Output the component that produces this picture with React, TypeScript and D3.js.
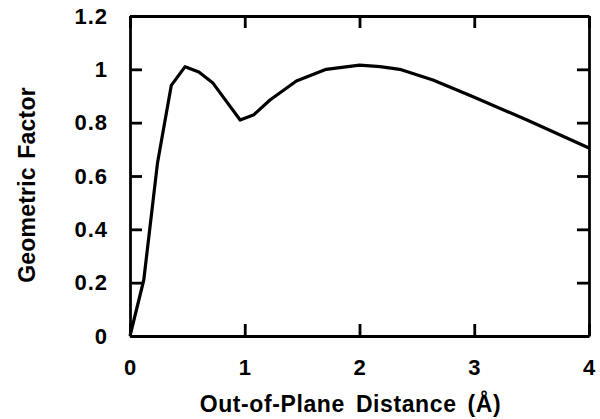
import React, { useEffect, useRef } from 'react';
import * as d3 from 'd3';

// out-of-plane distance (Å) and geometric factor
const distance = [0, 0.12, 0.24, 0.36, 0.48, 0.6, 0.72, 0.84, 0.96, 1.08, 1.22, 1.45, 1.71, 2.0, 2.18, 2.35, 2.64, 2.99, 3.46, 4.0];
const factor = [0, 0.21, 0.65, 0.94, 1.01, 0.99, 0.95, 0.88, 0.81, 0.83, 0.885, 0.956, 1.0, 1.016, 1.01, 1.0, 0.96, 0.897, 0.81, 0.705];

const xTicks = [0, 1, 2, 3, 4];
const yTicks = [0, 0.2, 0.4, 0.6, 0.8, 1, 1.2];

const App = () => {
  const svgRef = useRef<SVGSVGElement>(null);

  useEffect(() => {
    const svg = d3.select(svgRef.current);
    svg.selectAll('*').remove();

    const margin = { top: 16, right: 11, bottom: 83, left: 130 };
    const width = 600 - margin.left - margin.right;
    const height = 419 - margin.top - margin.bottom;
    const font = '"Liberation Sans", Arial, sans-serif';

    const x = d3.scaleLinear().domain([0, 4]).range([0, width]);
    const y = d3.scaleLinear().domain([0, 1.2]).range([height, 0]);

    const g = svg.append('g').attr('transform', `translate(${margin.left},${margin.top})`);

    const tickLen = 12;
    // inward ticks on all four sides
    const bottom = g.append('g').attr('transform', `translate(0,${height})`)
      .call(d3.axisBottom(x).tickValues(xTicks).tickSizeInner(-tickLen).tickSizeOuter(0).tickPadding(23).tickFormat(d3.format('d')));
    g.append('g')
      .call(d3.axisTop(x).tickValues(xTicks).tickSizeInner(-tickLen).tickSizeOuter(0).tickFormat(() => ''));
    const left = g.append('g')
      .call(d3.axisLeft(y).tickValues(yTicks).tickSizeInner(-tickLen).tickSizeOuter(0).tickPadding(22).tickFormat((d) => String(d)));
    g.append('g').attr('transform', `translate(${width},0)`)
      .call(d3.axisRight(y).tickValues(yTicks).tickSizeInner(-tickLen).tickSizeOuter(0).tickFormat(() => ''));

    g.selectAll('.domain').attr('stroke', '#000').attr('stroke-width', 2.8);
    g.selectAll('.tick line').attr('stroke', '#000').attr('stroke-width', 2.8);
    [bottom, left].forEach((a) => a.selectAll('text')
      .attr('font-family', font).attr('font-size', 22).attr('font-weight', 'bold')
      .attr('letter-spacing', 1).attr('fill', '#000'));

    const pts = distance.map((d, i) => [d, factor[i]] as [number, number]);
    const line = d3.line<[number, number]>().x((d) => x(d[0])).y((d) => y(d[1]));
    g.append('path').datum(pts)
      .attr('fill', 'none').attr('stroke', '#000').attr('stroke-width', 3.2)
      .attr('stroke-linejoin', 'round').attr('d', line);

    g.append('text')
      .attr('x', width / 2 - 9).attr('y', height + 76)
      .attr('text-anchor', 'middle').attr('font-family', font)
      .attr('font-size', 23).attr('font-weight', 'bold')
      .attr('word-spacing', 4).attr('letter-spacing', 0.6)
      .text('Out-of-Plane Distance (Å)');

    g.append('text')
      .attr('transform', `translate(${-95},${height / 2 + 9}) rotate(-90)`)
      .attr('text-anchor', 'middle').attr('font-family', font)
      .attr('font-size', 23).attr('font-weight', 'bold')
      .attr('word-spacing', 2).attr('letter-spacing', 0.2)
      .text('Geometric Factor');
  }, []);

  return <svg ref={svgRef} width={600} height={419} style={{ position: 'absolute', left: 0, top: 0, background: '#fff' }} />;
};

export default App;
